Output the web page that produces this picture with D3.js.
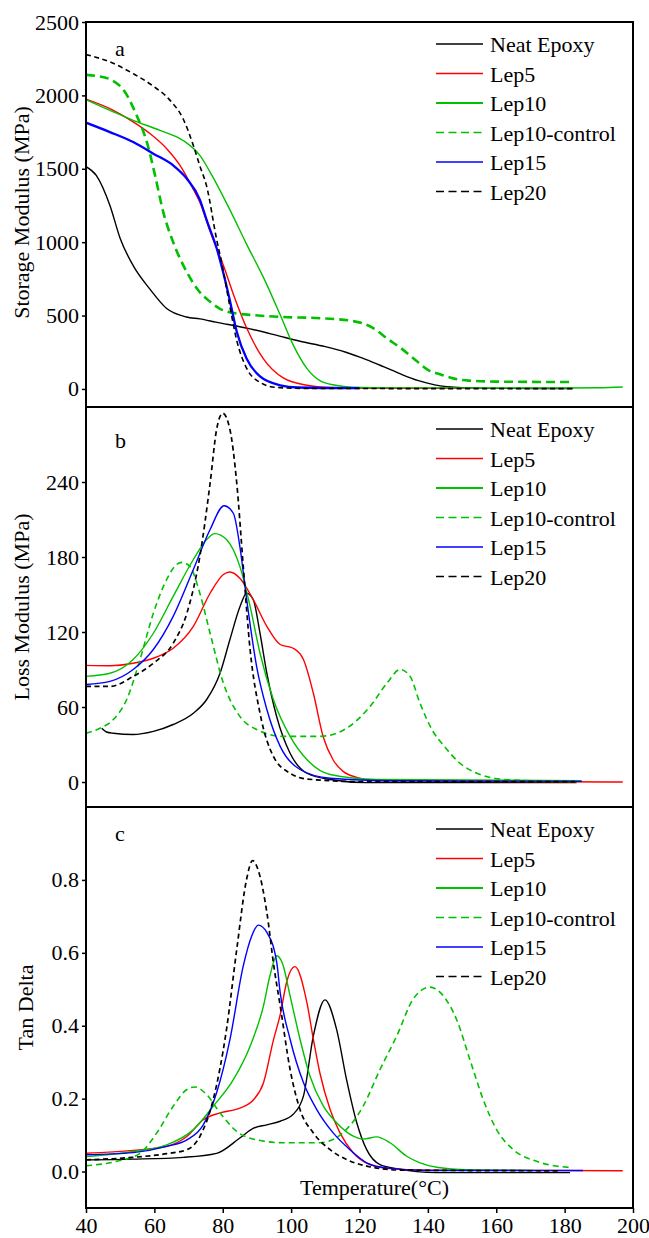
<!DOCTYPE html>
<html>
<head>
<meta charset="utf-8">
<script src="https://cdn.jsdelivr.net/npm/d3@7"></script>
<style>
  body { margin: 0; background: #fff; }
  text { font-family: "Liberation Serif", "Times New Roman", serif; }
</style>
</head>
<body>
<div id="chart"></div>
<script>
// Series info
const seriesNames = ["Neat Epoxy", "Lep5", "Lep10", "Lep10-control", "Lep15", "Lep20"];
const seriesColors = ["#000000", "#ff0000", "#00c000", "#00c000", "#0000ff", "#000000"];
const seriesDashed = [false, false, false, true, false, true];

// Panel a: storage modulus (MPa), [temperature, value]
const storageNeat = [[40,1515],[43,1455],[47,1250],[50,1025],[53.8,840],[58.7,680],[63.6,548],[69.4,490],[73.3,477],[78,455],[88,409],[95,370],[102.6,325],[110,288],[116,250],[122,200],[127,152],[132,102],[137,58],[142,28],[150,9],[160,4],[182.5,3]];
const storageLep5 = [[40,1975],[47,1910],[53.8,1820],[58.7,1740],[63.6,1637],[67.5,1523],[71.4,1360],[73.3,1273],[76.5,1060],[80.2,841],[83.5,620],[87,415],[91.9,205],[97.7,75],[104.6,25],[111.4,10],[125,5],[155,4]];
const storageLep10 = [[40,1970],[47,1898],[53.8,1830],[61.6,1762],[68.4,1693],[73.3,1591],[77.2,1440],[82.1,1220],[87,985],[91.9,760],[96.8,505],[100.6,300],[104.6,140],[108.4,57],[113,25],[118,12],[130,7],[180,6],[190,8],[197,13]];
const storageLep10c = [[40,2140],[43,2133],[47,2110],[51.4,2023],[54.8,1864],[57.8,1682],[60.2,1455],[62.6,1205],[65.5,1000],[69.5,796],[73.3,659],[76,600],[79.2,546],[85,511],[88.9,503],[97.7,490],[108.4,482],[118.2,462],[124,415],[128,345],[132,280],[136.7,190],[140,130],[143.5,100],[147.4,72],[152,57],[160,50],[182.5,47]];
const storageLep15 = [[40,1814],[47,1750],[53.8,1682],[59.7,1603],[65.5,1523],[69.5,1432],[73.3,1290],[75.3,1150],[78.2,960],[80.7,740],[82.1,600],[84.1,390],[87,205],[90.9,85],[96.8,25],[102,10],[120,5]];
const storageLep20 = [[40,2278],[47,2228],[53.8,2148],[59.6,2064],[64.6,1966],[68.4,1841],[71.4,1659],[73.3,1520],[75.3,1380],[78.2,1020],[79.7,860],[82.1,560],[84.1,330],[87,140],[90.9,45],[95.8,10],[105,3],[182.5,2]];

// Panel b: loss modulus (MPa)
const lossNeat = [[44.6,43],[46,40],[48,39],[53.8,38],[59.7,40.5],[65.5,46],[71.4,55],[75.3,66],[79.2,87],[82.1,114],[85,140],[87,151],[88.9,146],[90.9,119],[92.9,87],[95.8,52],[99.7,23],[104.6,7],[111.4,2],[122,-0.5],[183.5,-0.5]];
const lossLep5 = [[40,93.3],[47,93],[53.8,95],[59.7,99],[65.5,107],[71.4,124.5],[76.3,151],[80.2,166],[82.1,168],[85,163],[88.9,146],[92.9,124.5],[96.8,110],[100.6,107],[103.6,98],[106.5,71],[109.4,36],[112.3,17.6],[115.3,8.3],[119.2,3.7],[125,1],[197,0]];
const lossLep10 = [[40,84.5],[47,87],[53.8,98],[59.7,119],[65.5,148.5],[71.4,178],[75.3,194],[77.7,198.7],[81.1,194],[85,172.5],[88,140.5],[90.9,103],[94.8,66],[99.7,36.5],[104.6,18],[111.4,6],[125,2],[185,1]];
const lossLep10c = [[40,39],[44.1,43],[48,50],[51.9,66],[55.8,98],[59.7,135],[63.6,162],[66.5,174],[68,175.7],[70.4,172.5],[73.3,151],[76.3,119],[80.2,79],[85,52.5],[89.9,42],[97.7,36.5],[108.4,36.5],[116.2,43],[123.1,60.5],[128,79],[131.9,90],[134.8,84.5],[137.7,63],[141.6,40],[144.5,29.6],[149.4,15],[154.3,7],[161.1,2.4],[170,1],[183,0.5]];
const lossLep15 = [[40,78],[47,80.5],[53.8,90],[59.7,106],[65.5,132.5],[71.4,170],[76.3,202],[80.4,221],[83.1,215],[85,188.5],[87,146],[89.9,92.5],[92.9,58],[96.8,28.5],[102.6,10],[111.4,3],[130,1],[185,0.5]];
const lossLep20 = [[40,76.5],[47,76.5],[53.8,84.5],[59.7,95],[65.5,111],[69.5,135],[73.3,180.5],[76.3,239],[78.2,282],[80,295],[82.1,282],[84.1,239],[86,172.5],[88,106],[90.9,55],[94.8,20.5],[99.7,7],[104.6,2.4],[120,0.3],[183,0.3]];

// Panel c: tan delta
const tanNeat = [[40,0.032],[53.8,0.034],[68.5,0.039],[78.2,0.05],[85,0.092],[89,0.119],[92.9,0.128],[96.8,0.138],[100.6,0.157],[103.6,0.207],[106.5,0.372],[109.9,0.471],[113.3,0.39],[116.2,0.253],[119.2,0.134],[122.1,0.06],[126,0.019],[130.9,0.008],[142.5,-0.003],[181.6,-0.003]];
const tanLep5 = [[40,0.05],[53.8,0.058],[63.6,0.069],[69.5,0.096],[74.3,0.142],[79.2,0.161],[85,0.174],[89,0.197],[91.9,0.243],[94.8,0.36],[96.8,0.43],[98.7,0.52],[101.1,0.562],[104.6,0.464],[106.5,0.363],[108.4,0.271],[111.4,0.17],[114.3,0.106],[118.2,0.051],[123.1,0.019],[128.9,0.008],[140,0.004],[197,0.002]];
const tanLep10 = [[40,0.041],[53.8,0.055],[63.6,0.073],[71.4,0.115],[77.2,0.179],[83.1,0.252],[88,0.344],[91.9,0.454],[93.8,0.537],[95.8,0.592],[97.5,0.57],[99.7,0.482],[102.6,0.363],[105.5,0.262],[109.4,0.18],[113.3,0.134],[118.2,0.097],[121.1,0.089],[125,0.095],[128.9,0.079],[133.8,0.042],[137.7,0.024],[143,0.011],[151.7,0.005],[170.8,0.003]];
const tanLep10c = [[40,0.016],[49,0.028],[55.8,0.05],[60.7,0.106],[65.5,0.179],[69.5,0.225],[71.9,0.232],[75.3,0.211],[79.2,0.161],[84.1,0.11],[89.9,0.087],[97.7,0.079],[108.4,0.079],[114.3,0.1],[121.1,0.18],[126,0.28],[130.9,0.372],[135.7,0.473],[140.6,0.506],[144.5,0.482],[148.4,0.417],[152.3,0.307],[156.2,0.197],[160.1,0.115],[165,0.06],[171.8,0.028],[181.6,0.011]];
const tanLep15 = [[40,0.046],[53.8,0.052],[63.6,0.069],[69.5,0.087],[74.3,0.128],[78.2,0.216],[82.1,0.362],[86,0.564],[88.5,0.647],[90.4,0.676],[92.9,0.656],[95.8,0.573],[96.8,0.491],[99.7,0.363],[103.6,0.244],[107.5,0.17],[112.3,0.106],[117.2,0.06],[122.1,0.024],[127.9,0.01],[140,0.003],[185.4,0.003]];
const tanLep20 = [[40,0.032],[53.8,0.039],[63.6,0.049],[69.5,0.06],[73.3,0.096],[77.2,0.197],[81.1,0.39],[84.1,0.61],[87,0.803],[88.7,0.853],[90.4,0.826],[92.9,0.711],[95,0.56],[96.8,0.455],[99.7,0.28],[102.6,0.17],[106.5,0.106],[111.4,0.06],[116.2,0.033],[122.1,0.015],[132,0.004],[178,0.002]];

// Tick labels
const xTicks = [40, 60, 80, 100, 120, 140, 160, 180, 200];
const storageTicks = [0, 500, 1000, 1500, 2000, 2500];
const lossTicks = [0, 60, 120, 180, 240];
const tanTicks = [0, 0.2, 0.4, 0.6, 0.8];

// Layout
const width = 649, height = 1238;
const left = 86, right = 633;

const panels = [
    { label: "a", yLabel: "Storage Modulus (MPa)", top: 22, bottom: 407, domain: [-123, 2500], ticks: storageTicks, fmt: d3.format("d"), labelX: 29,
      data: [storageNeat, storageLep5, storageLep10, storageLep10c, storageLep15, storageLep20], widths: [1.4, 1.4, 1.4, 2.6, 2.3, 1.6], dash: "9,5" },
    { label: "b", yLabel: "Loss Modulus (MPa)", top: 407, bottom: 807, domain: [-20, 300], ticks: lossTicks, fmt: d3.format("d"), labelX: 29,
      data: [lossNeat, lossLep5, lossLep10, lossLep10c, lossLep15, lossLep20], widths: [1.4, 1.4, 1.4, 1.6, 1.4, 1.7], dash: "6,4" },
    { label: "c", yLabel: "Tan Delta", top: 807, bottom: 1208, domain: [-0.1, 1.0], ticks: tanTicks, fmt: d3.format(".1f"), labelX: 33,
      data: [tanNeat, tanLep5, tanLep10, tanLep10c, tanLep15, tanLep20], widths: [1.4, 1.4, 1.4, 1.6, 1.4, 1.7], dash: "6,4" }
];

const svg = d3.select("#chart")
    .append("svg")
    .attr("width", width)
    .attr("height", height);

const xScale = d3.scaleLinear().domain([40, 200]).range([left, right]);

panels.forEach((p, i) => {
    const yScale = d3.scaleLinear().domain(p.domain).range([p.bottom, p.top]);

    const clipId = "clip" + i;
    svg.append("clipPath").attr("id", clipId)
        .append("rect")
        .attr("x", left).attr("y", p.top)
        .attr("width", right - left).attr("height", p.bottom - p.top);

    const line = d3.line()
        .x(d => xScale(d[0]))
        .y(d => yScale(d[1]))
        .curve(d3.curveMonotoneX);

    const g = svg.append("g").attr("clip-path", `url(#${clipId})`);
    p.data.forEach((series, k) => {
        g.append("path")
            .datum(series)
            .attr("fill", "none")
            .attr("stroke", seriesColors[k])
            .attr("stroke-width", p.widths[k])
            .attr("stroke-dasharray", seriesDashed[k] ? (k === 5 ? "5,3.5" : p.dash) : null)
            .attr("d", line);
    });

    // Frame
    svg.append("rect")
        .attr("x", left).attr("y", p.top)
        .attr("width", right - left).attr("height", p.bottom - p.top)
        .attr("fill", "none")
        .attr("stroke", "#000")
        .attr("stroke-width", 2);

    // Y axis
    const yAxis = d3.axisLeft(yScale).tickValues(p.ticks).tickFormat(p.fmt).tickSize(4).tickPadding(3);
    const ya = svg.append("g")
        .attr("transform", `translate(${left},0)`)
        .call(yAxis);
    ya.select(".domain").remove();
    ya.selectAll(".tick line").attr("stroke-width", 1.5);
    ya.selectAll("text")
        .style("font-family", "Liberation Serif")
        .style("font-size", "22px")
        .attr("fill", "#000");

    // Y label
    svg.append("text")
        .attr("transform", `translate(${p.labelX},${(p.top + p.bottom) / 2 + (i === 0 ? -2 : 0)}) rotate(-90)`)
        .attr("text-anchor", "middle")
        .style("font-size", "22px")
        .text(p.yLabel);

    // Panel letter
    svg.append("text")
        .attr("x", 115)
        .attr("y", p.top + (i === 1 ? 41 : 34))
        .style("font-size", "22px")
        .text(p.label);

    // Legend
    const lg = svg.append("g");
    seriesNames.forEach((name, k) => {
        const y = p.top + 22 + k * 29.5;
        lg.append("line")
            .attr("x1", 436).attr("x2", 483)
            .attr("y1", y).attr("y2", y)
            .attr("stroke", seriesColors[k])
            .attr("stroke-width", k === 2 ? 1.8 : 1.4)
            .attr("stroke-dasharray", seriesDashed[k] ? "8,4.5" : null);
        lg.append("text")
            .attr("x", 490)
            .attr("y", y + 8)
            .style("font-size", "22px")
            .text(name);
    });
});

// X axis at the bottom
const xAxis = d3.axisBottom(xScale).tickValues(xTicks).tickFormat(d3.format("d")).tickSize(5).tickPadding(4);
const xa = svg.append("g")
    .attr("transform", `translate(0,${panels[2].bottom})`)
    .call(xAxis);
xa.select(".domain").remove();
xa.selectAll(".tick line").attr("stroke-width", 1.5);
xa.selectAll("text")
    .style("font-family", "Liberation Serif")
    .style("font-size", "22px")
    .attr("fill", "#000");

svg.append("text")
    .attr("x", 300)
    .attr("y", 1195)
    .style("font-size", "22px")
    .text("Temperature(°C)");
</script>
</body>
</html>
